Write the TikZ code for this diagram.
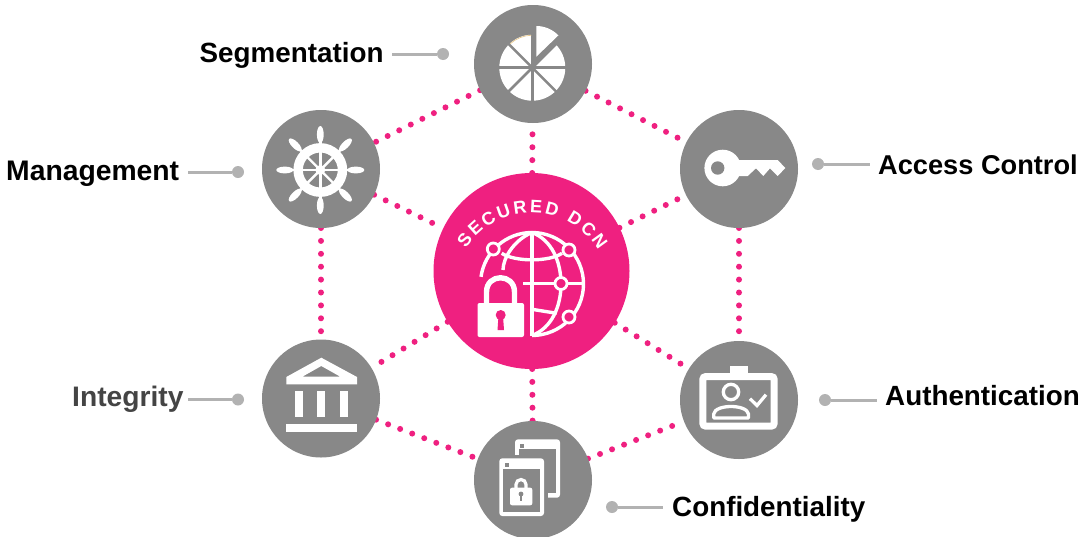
\documentclass[tikz,border=0pt]{standalone}
\usepackage{fontspec}
\setmainfont{Liberation Sans}
\usetikzlibrary{backgrounds,decorations.text}
\definecolor{hub}{HTML}{EF2080}
\definecolor{disccol}{HTML}{888888}
\definecolor{lead}{HTML}{B2B2B2}
\definecolor{darktxt}{HTML}{444444}
\tikzset{
  x=1pt,y=-1pt,
  discnode/.style={circle,fill=disccol,minimum size=118pt,inner sep=0pt,outer sep=0pt},
  hubdisc/.style={circle,fill=hub,minimum size=196pt,inner sep=0pt,outer sep=0pt},
  link/.style={draw=hub,line width=6pt,line cap=round,dash pattern=on 0pt off 12.9pt},
  lab/.style={font=\bfseries\fontsize{#1}{30}\selectfont,inner sep=0pt,text=black,anchor=base west},
  tipdot/.style={circle,fill=lead,minimum size=12pt,inner sep=0pt,outer sep=0pt},
  leader/.style={draw=lead,line width=3pt},
  ink/.style={white,line width=3.4pt},
  gap/.style={draw=disccol,line width=2.6pt},
}
\begin{document}
\begin{tikzpicture}
\useasboundingbox (0,0) rectangle (1081,536);
% discs
\node[hubdisc] (hubc) at (531.5,271) {};
\node[discnode] (seg) at (533,64) {};
\node[discnode] (mgt) at (321,169) {};
\node[discnode] (acc) at (739,169) {};
\node[discnode] (int) at (321,398.5) {};
\node[discnode] (aut) at (739,400) {};
\node[discnode] (con) at (533,480) {};
% connectors
\begin{pgfonlayer}{background}
\foreach \p/\q in {seg/mgt,seg/acc,mgt/int,acc/aut,int/con,con/aut,hubc/seg,mgt/hubc,hubc/acc,hubc/int,hubc/aut,hubc/con}
  \draw[link] (\p) -- (\q);
\end{pgfonlayer}
% labels and leaders
\node[lab=27.8] (lseg) at (199.5,62) {Segmentation};
\node[tipdot] (dseg) at (443,54) {};
\draw[leader] (392,54) -- (dseg);
\node[lab=28.3] (lmgt) at (6,180) {Management};
\node[tipdot] (dmgt) at (238,172) {};
\draw[leader] (188,172) -- (dmgt);
\node[lab=27.2] (lacc) at (878,174) {Access Control};
\node[tipdot] (dacc) at (818,164) {};
\draw[leader] (dacc) -- (870,164);
\node[lab=27.8] (laut) at (885,405) {Authentication};
\node[tipdot] (daut) at (825,400) {};
\draw[leader] (daut) -- (877,400);
\node[lab=27.8] (lcon) at (672,516) {Confidentiality};
\node[tipdot] (dcon) at (612,507) {};
\draw[leader] (dcon) -- (663,507);
\node[lab=28.2,text=darktxt] (lint) at (72,406) {Integrity};
\node[tipdot] (dint) at (238,399.5) {};
\draw[leader] (188,399.5) -- (dint);
% --- segmentation icon
\fill[white] (532.3,67.7) -- (532.3,34.7) arc (-90:-405:33) -- cycle;
\foreach \a in {-45,-90,-135,0,45,90,135,180}
  \draw[gap] (532.3,67.7) -- ++(\a:34);
\fill[white] (536.3,56.7) -- (536.3,26) arc (-90:-44:30.7) -- cycle;
\draw[color={rgb,255:red,232;green,200;blue,140},line width=.7pt] (510.3,43.7) arc (-132:-92:33);
% --- ship wheel
\foreach \a in {0,45,...,315}{
  \fill[white,rotate around={\a:(320.3,170)}] (320.3,134.5) ellipse [x radius=3.4,y radius=8.5];
  \draw[white,line width=2.4pt] (320.3,170) -- ++(\a:30);
}
\draw[white,line width=9.4pt] (320.3,170) circle [radius=22.2];
\fill[white] (320.3,170) circle [radius=5];
% --- key
\fill[white] (722.7,168) circle [radius=18.3];
\fill[white] (737.7,160) -- (777.7,160) -- (785.3,168) -- (777.7,176) -- (770,168.3) -- (763.3,176) -- (756,168.3) -- (747.7,176) -- (737,176) -- cycle;
\fill[disccol] (717.7,168) circle [radius=6.7];
% --- bank
\fill[white,even odd rule] (321.3,357.7) -- (357,377) -- (357,384.3) -- (286.3,384.3) -- (286.3,377) -- cycle
  (321.3,366) -- (340.3,376.7) -- (302.3,376.7) -- cycle;
\foreach \x in {295.3,317.3,340}
  \fill[white] (\x,391) rectangle ++(7.8,26);
\fill[white] (286.3,424.3) rectangle (357,432.3);
% --- badge
\fill[white] (730,365.7) rectangle (747.7,376);
\draw[white,line width=7pt,rounded corners=3pt] (702.8,376.5) rectangle (774.2,426.2);
\draw[white,line width=3.3pt] (731,392) circle [radius=7.7];
\draw[white,line width=3.3pt,line join=round] (713.7,418) -- (713.7,414) .. controls (715,404) and (747,404) .. (748.5,414) -- (748.5,418) -- cycle;
\draw[white,line width=3.3pt] (750,398.7) -- (757,405.5) -- (766,394.7);
% --- documents
\fill[white,rounded corners=3pt] (515,439.3) rectangle (560,497.7);
\fill[disccol] (519,449.3) rectangle (555.7,493.3);
\fill[disccol] (520.3,444) rectangle (524.3,448);
\fill[disccol] (495.5,454.5) rectangle (547.5,520);
\fill[white,rounded corners=3pt] (499.3,458.3) rectangle (544,516);
\fill[disccol] (503.3,468.7) rectangle (540,512);
\fill[disccol] (504.7,463) rectangle (508.7,467);
\fill[white,rounded corners=2pt] (510,487.7) rectangle (532.3,505.3);
\draw[white,line width=3.2pt] (516,489) -- (516,484.5) arc (-180:0:5) -- (526,489);
\fill[disccol] (521,494) circle [radius=2.4];
\fill[disccol] (520,494) rectangle (522,500.5);
% --- central globe
\draw[ink] (532,232.5) arc (-90:90:51.5);
\draw[ink] (532,232.5) arc (-90:-172:51.5);
\draw[ink] (532,232.5) -- (532,335.5);
\draw[ink] (532,232.5) .. controls (552,240) and (561,262) .. (561,284) .. controls (561,306) and (552,328) .. (532,335.5);
\draw[ink] (532,232.5) .. controls (514,240) and (503,258) .. (503,270);
\draw[ink] (501.7,253.3) .. controls (515,262) and (549,262) .. (562,253.3);
\draw[ink] (523,283.5) -- (583.5,283.5);
\draw[ink] (532,309.3) -- (556.7,313.3);
\foreach \cx/\cy in {493.3/249,569/250,561/283.5,569/317}
  \draw[white,line width=2.8pt,fill=hub] (\cx,\cy) circle [radius=6];
% lock
\fill[hub] (472,298) rectangle (529,342);
\draw[hub,line width=11pt] (486.5,306) -- (486.5,292) .. controls (486.5,273) and (514.5,273) .. (514.5,292) -- (514.5,306);
\draw[white,line width=5.4pt] (486.5,306) -- (486.5,292) .. controls (486.5,273) and (514.5,273) .. (514.5,292) -- (514.5,306);
\fill[white,rounded corners=2pt] (477.5,303) rectangle (524,337);
\fill[hub] (500.7,315) circle [radius=5];
\fill[hub] (498.5,316) -- (503,316) -- (504,330) -- (497.5,330) -- cycle;
% curved title
\path[decorate,decoration={text along path,text align={fit to path},
  text={|\bfseries\fontsize{18}{20}\selectfont\color{white}|SECURED DCN}}]
  (466,248.3) arc (-147:-31:78);
\end{tikzpicture}
\end{document}
